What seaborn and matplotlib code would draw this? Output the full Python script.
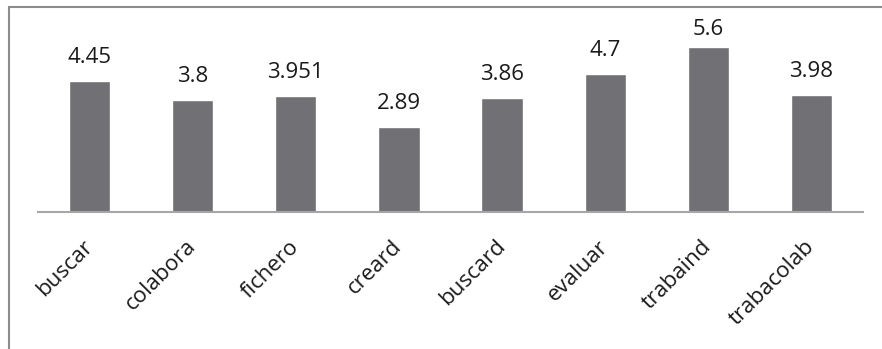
import matplotlib
matplotlib.use("Agg")
import matplotlib.pyplot as plt
import seaborn as sns
import pandas as pd
from matplotlib.patches import Rectangle

categories = ["buscar", "colabora", "fichero", "creard", "buscard", "evaluar", "trabaind", "trabacolab"]
values = [4.45, 3.8, 3.951, 2.89, 3.86, 4.7, 5.6, 3.98]
value_labels = ["4.45", "3.8", "3.951", "2.89", "3.86", "4.7", "5.6", "3.98"]

sns.set_style("white")
plt.rcParams['font.family'] = ['Open Sans', 'DejaVu Sans']

df = pd.DataFrame({"cat": categories, "val": values})

W, H = 882, 349
fig = plt.figure(figsize=(W / 100, H / 100), dpi=100)
left, right = 38, 863
top_px, base_px = 19, 211.5
ax = fig.add_axes([left / W, 1 - base_px / H, (right - left) / W, (base_px - top_px) / H])

sns.barplot(data=df, x="cat", y="val", color="#717074", saturation=1, width=0.4, ax=ax)
ax.set_xlim(-0.5, len(categories) - 0.5)
ppu = 29.3
ymax = (base_px - top_px) / ppu
ax.set_ylim(0, ymax)

# label gap above bar; labels that would leave the plot area are kept inside
gap_px = 18
label_h_px = 16
for i, (v, lab) in enumerate(zip(values, value_labels)):
    y_lab = v + gap_px / ppu
    y_lab = min(y_lab, ymax - label_h_px / ppu)
    ax.text(i, y_lab, lab, ha="center", va="baseline", fontsize=16, color="#1a1a1a")

for s in ["top", "right", "left"]:
    ax.spines[s].set_visible(False)
ax.spines["bottom"].set_color("#a6a6a6")
ax.spines["bottom"].set_linewidth(1.5)
ax.set_yticks([])
ax.set_xlabel("")
ax.set_ylabel("")
ax.tick_params(axis="x", length=0, pad=23)
ax.set_xticks(range(len(categories)))
ax.set_xticklabels(categories, rotation=45, ha="right", va="center", rotation_mode="anchor",
                   fontsize=16, color="#1a1a1a")

fig.patches.append(Rectangle((9 / W, -0.1), 1.2, 1 - 6.5 / H + 0.1, transform=fig.transFigure,
                             fill=False, edgecolor="#8c8c8c", linewidth=1.5))

fig.savefig("out.png", dpi=100)
